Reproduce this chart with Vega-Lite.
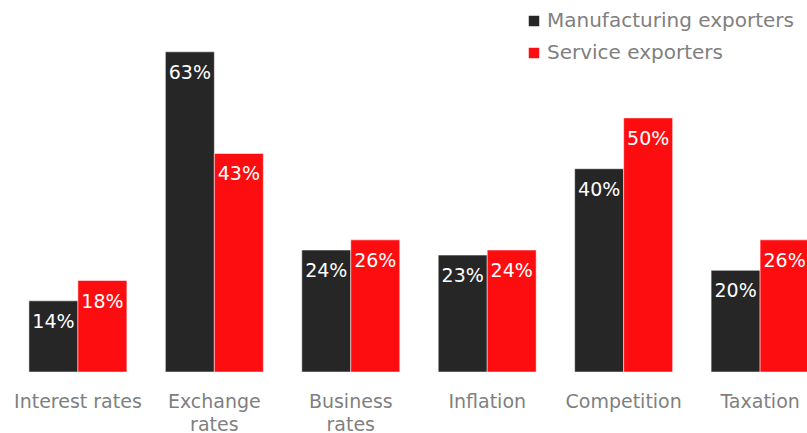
{
  "$schema": "https://vega.github.io/schema/vega-lite/v6.json",
  "autosize": "none",
  "padding": {"left": 0, "top": 0, "right": 0, "bottom": 61},
  "width": 807,
  "height": 372,
  "background": "white",
  "config": {"view": {"stroke": null}, "font": "DejaVu Sans"},
  "data": {"values": [
    {"factor": "Interest rates", "group": "Manufacturing exporters", "value": 14},
    {"factor": "Interest rates", "group": "Service exporters", "value": 18},
    {"factor": "Exchange rates", "group": "Manufacturing exporters", "value": 63},
    {"factor": "Exchange rates", "group": "Service exporters", "value": 43},
    {"factor": "Business rates", "group": "Manufacturing exporters", "value": 24},
    {"factor": "Business rates", "group": "Service exporters", "value": 26},
    {"factor": "Inflation", "group": "Manufacturing exporters", "value": 23},
    {"factor": "Inflation", "group": "Service exporters", "value": 24},
    {"factor": "Competition", "group": "Manufacturing exporters", "value": 40},
    {"factor": "Competition", "group": "Service exporters", "value": 50},
    {"factor": "Taxation", "group": "Manufacturing exporters", "value": 20},
    {"factor": "Taxation", "group": "Service exporters", "value": 26}
  ]},
  "transform": [{"calculate": "datum.value + '%'", "as": "label"}],
  "encoding": {
    "x": {
      "field": "factor", "type": "nominal", "sort": null,
      "scale": {"range": [0, 838], "paddingInner": 0.282, "paddingOuter": 0.212},
      "axis": {
        "title": null, "domain": false, "ticks": false, "labelAngle": 0,
        "labelFontSize": 19, "labelColor": "#7f7f7f", "labelPadding": 20,
        "labelLineHeight": 23, "labelOverlap": false, "labelBound": false, "labelLimit": 300,
        "labelExpr": "datum.label == 'Exchange rates' ? ['Exchange', 'rates'] : datum.label == 'Business rates' ? ['Business', 'rates'] : datum.label"
      }
    },
    "xOffset": {"field": "group", "type": "nominal", "sort": ["Manufacturing exporters", "Service exporters"]},
    "y": {"field": "value", "type": "quantitative", "scale": {"domain": [0, 73.2], "nice": false}, "axis": null}
  },
  "layer": [
    {
      "mark": {"type": "bar", "stroke": "white", "strokeWidth": 0.5},
      "encoding": {
        "color": {
          "field": "group", "type": "nominal",
          "scale": {"domain": ["Manufacturing exporters", "Service exporters"], "range": ["#262626", "#fe0d10"]},
          "legend": {
            "title": null, "orient": "none", "legendX": 524, "legendY": 11,
            "symbolType": "square", "symbolSize": 110, "symbolStrokeWidth": 0,
            "labelFontSize": 20, "labelColor": "#7f7f7f", "labelLimit": 400,
            "rowPadding": 12, "labelOffset": 3
          }
        }
      }
    },
    {
      "mark": {"type": "text", "color": "white", "fontSize": 19, "baseline": "middle", "dy": 21},
      "encoding": {"text": {"field": "label", "type": "nominal"}}
    }
  ]
}
